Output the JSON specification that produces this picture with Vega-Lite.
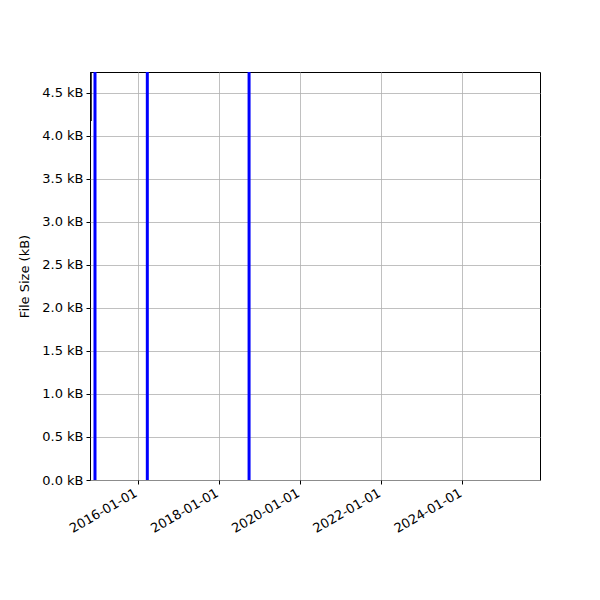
{
  "$schema": "https://vega.github.io/schema/vega-lite/v6.json",
  "autosize": {"type": "none"},
  "padding": {"left": 90, "top": 72, "right": 60, "bottom": 120},
  "width": 450,
  "height": 408,
  "background": "white",
  "config": {
    "font": "DejaVu Sans",
    "view": {"stroke": "black", "strokeWidth": 1},
    "axis": {
      "labelFont": "DejaVu Sans",
      "titleFont": "DejaVu Sans",
      "labelFontSize": 13,
      "titleFontSize": 13,
      "labelColor": "black",
      "titleColor": "black",
      "titleFontWeight": "normal",
      "gridColor": "#b0b0b0",
      "gridWidth": 0.8,
      "gridOpacity": 1,
      "tickColor": "black",
      "tickSize": 4,
      "tickWidth": 1,
      "domain": false,
      "labelPadding": 3
    }
  },
  "datasets": {
    "events": [
      {"date": "2014-12-12"},
      {"date": "2016-03-27"},
      {"date": "2018-09-29"}
    ],
    "sizes": [
      {"date": "2014-11-06", "size": 4.174},
      {"date": "2014-11-06", "size": 4.9}
    ]
  },
  "layer": [
    {
      "data": {"name": "events"},
      "mark": {"type": "rule", "color": "blue", "strokeWidth": 3, "clip": true},
      "encoding": {
        "x": {
          "field": "date",
          "type": "temporal",
          "scale": {"domain": ["2014-10-28", "2025-11-30"]},
          "axis": {
            "title": null,
            "values": ["2016-01-01", "2018-01-01", "2020-01-01", "2022-01-01", "2024-01-01"],
            "format": "%Y-%m-%d",
            "labelAngle": -30,
            "labelAlign": "right",
            "labelBaseline": "alphabetic",
            "labelPadding": 11,
            "grid": true
          }
        }
      }
    },
    {
      "data": {"name": "sizes"},
      "mark": {"type": "line", "color": "black", "strokeWidth": 1.5, "clip": true},
      "encoding": {
        "x": {"field": "date", "type": "temporal"},
        "y": {
          "field": "size",
          "type": "quantitative",
          "scale": {"domain": [0, 4.744], "nice": false, "zero": true},
          "axis": {
            "title": "File Size (kB)",
            "values": [0, 0.5, 1, 1.5, 2, 2.5, 3, 3.5, 4, 4.5],
            "labelExpr": "format(datum.value, '.1f') + ' kB'",
            "grid": true,
            "titlePadding": 10
          }
        }
      }
    }
  ]
}
